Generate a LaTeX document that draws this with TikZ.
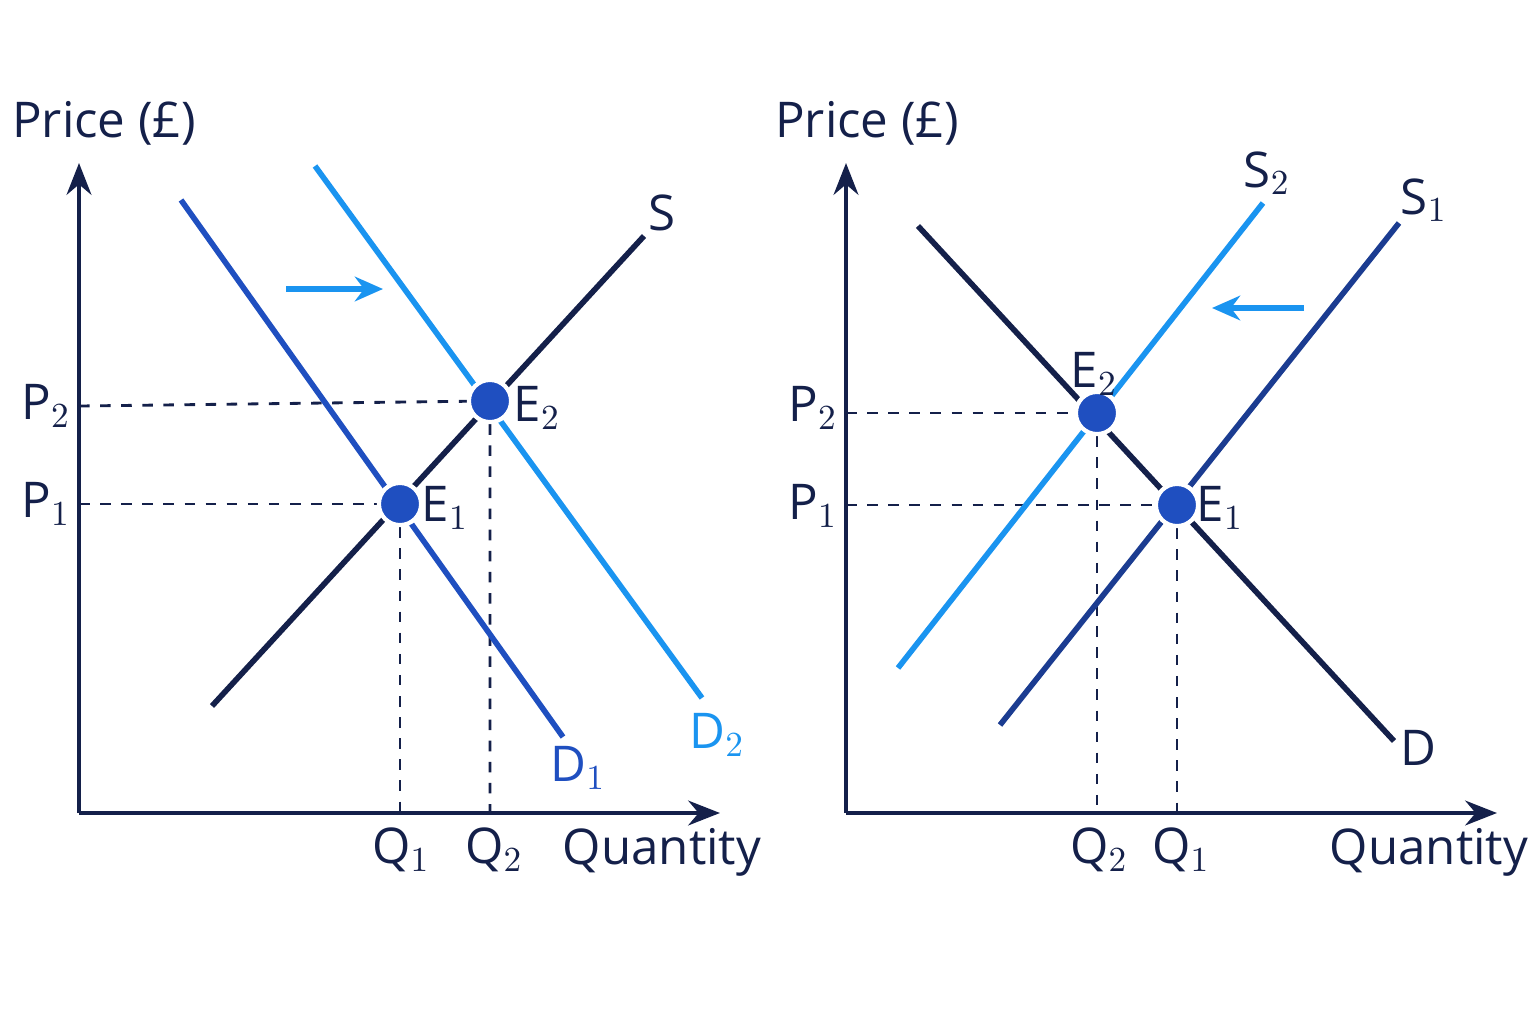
\documentclass[tikz,border=0pt]{standalone}
\usepackage{fontspec}
\setmainfont{Open Sans}
\usetikzlibrary{arrows.meta}
\definecolor{navy}{HTML}{14204A}
\definecolor{dblue}{HTML}{1F4FC0}
\definecolor{lblue}{HTML}{1A94F0}
\begin{document}
\begin{tikzpicture}[x=0.01cm,y=-0.01cm,
    axis/.style={navy, line width=1.4pt, -{Stealth[length=9pt,width=7pt]}},
    curve/.style={line width=1.6pt},
    guide/.style={navy, dashed, line width=0.8pt},
    moved/.style={lblue, line width=1.6pt, -{Stealth[length=8pt,width=7pt]}},
    eq/.style={circle, fill=dblue, draw=white, line width=1.2pt, inner sep=0pt, minimum size=12pt},
    lbl/.style={font=\fontsize{14}{16}\selectfont, text=navy}]

    \useasboundingbox (0,0) rectangle (1536,1024);

    % left panel: demand shift
    \coordinate (lo) at (79,813);
    \coordinate (ly) at (79,163);
    \coordinate (lx) at (720,813);
    \draw[axis] (lo) -- (ly);
    \draw[axis] (lo) -- (lx);
    \node[lbl] (lprice) at (104,123) {Price (£)};
    \node[lbl] (lqty) at (662,852) {Quantity};

    \coordinate (lp2) at (79,406);
    \coordinate (lp1) at (79,504);
    \coordinate (lq1) at (400,813);
    \coordinate (lq2) at (490,813);
    \node[eq] (le1) at (400,504) {};
    \node[eq] (le2) at (490,401) {};
    \draw[guide] (lp2) -- (le2) -- (lq2);
    \draw[guide] (lp1) -- (le1) -- (lq1);

    \draw[curve, navy] (212,706) -- (644,236);
    \draw[curve, dblue] (181,200) -- (563,737);
    \draw[curve, lblue] (315,166) -- (702,698);
    \node[eq] at (le1) {};
    \node[eq] at (le2) {};

    \coordinate (la) at (286,289);
    \coordinate (lb) at (383,289);
    \draw[moved] (la) -- (lb);

    \node[lbl] (ls) at (662,213) {S};
    \node[lbl, text=dblue] (ld1) at (578,768) {D$_1$};
    \node[lbl, text=lblue] (ld2) at (717,735) {D$_2$};
    \node[lbl] (lE1) at (445,508) {E$_1$};
    \node[lbl] (lE2) at (537,408) {E$_2$};
    \node[lbl] (lP2) at (46,406) {P$_2$};
    \node[lbl] (lP1) at (46,504) {P$_1$};
    \node[lbl] (lQ1) at (401,850) {Q$_1$};
    \node[lbl] (lQ2) at (494,850) {Q$_2$};

    % right panel: supply shift
    \coordinate (ro) at (846,813);
    \coordinate (ry) at (846,163);
    \coordinate (rx) at (1497,813);
    \draw[axis] (ro) -- (ry);
    \draw[axis] (ro) -- (rx);
    \node[lbl] (rprice) at (867,123) {Price (£)};
    \node[lbl] (rqty) at (1429,852) {Quantity};

    \coordinate (rp2) at (846,413);
    \coordinate (rp1) at (846,505);
    \coordinate (rq2) at (1097,813);
    \coordinate (rq1) at (1177,813);
    \node[eq] (re2) at (1097,413) {};
    \node[eq] (re1) at (1177,505) {};
    \draw[guide] (rp2) -- (re2) -- (rq2);
    \draw[guide] (rp1) -- (re1) -- (rq1);

    \draw[curve, navy] (918,226) -- (1394,741);
    \draw[curve, dblue!60!navy] (1000,725) -- (1399,223);
    \draw[curve, lblue] (898,668) -- (1263,203);
    \node[eq] at (re1) {};
    \node[eq] at (re2) {};

    \coordinate (ra) at (1304,308);
    \coordinate (rb) at (1212,308);
    \draw[moved] (ra) -- (rb);

    \node[lbl] (rs2) at (1267,173) {S$_2$};
    \node[lbl] (rs1) at (1424,200) {S$_1$};
    \node[lbl] (rd) at (1418,748) {D};
    \node[lbl] (rE2) at (1094,374) {E$_2$};
    \node[lbl] (rE1) at (1220,508) {E$_1$};
    \node[lbl] (rP2) at (813,408) {P$_2$};
    \node[lbl] (rP1) at (813,506) {P$_1$};
    \node[lbl] (rQ2) at (1099,850) {Q$_2$};
    \node[lbl] (rQ1) at (1181,850) {Q$_1$};

\end{tikzpicture}
\end{document}
